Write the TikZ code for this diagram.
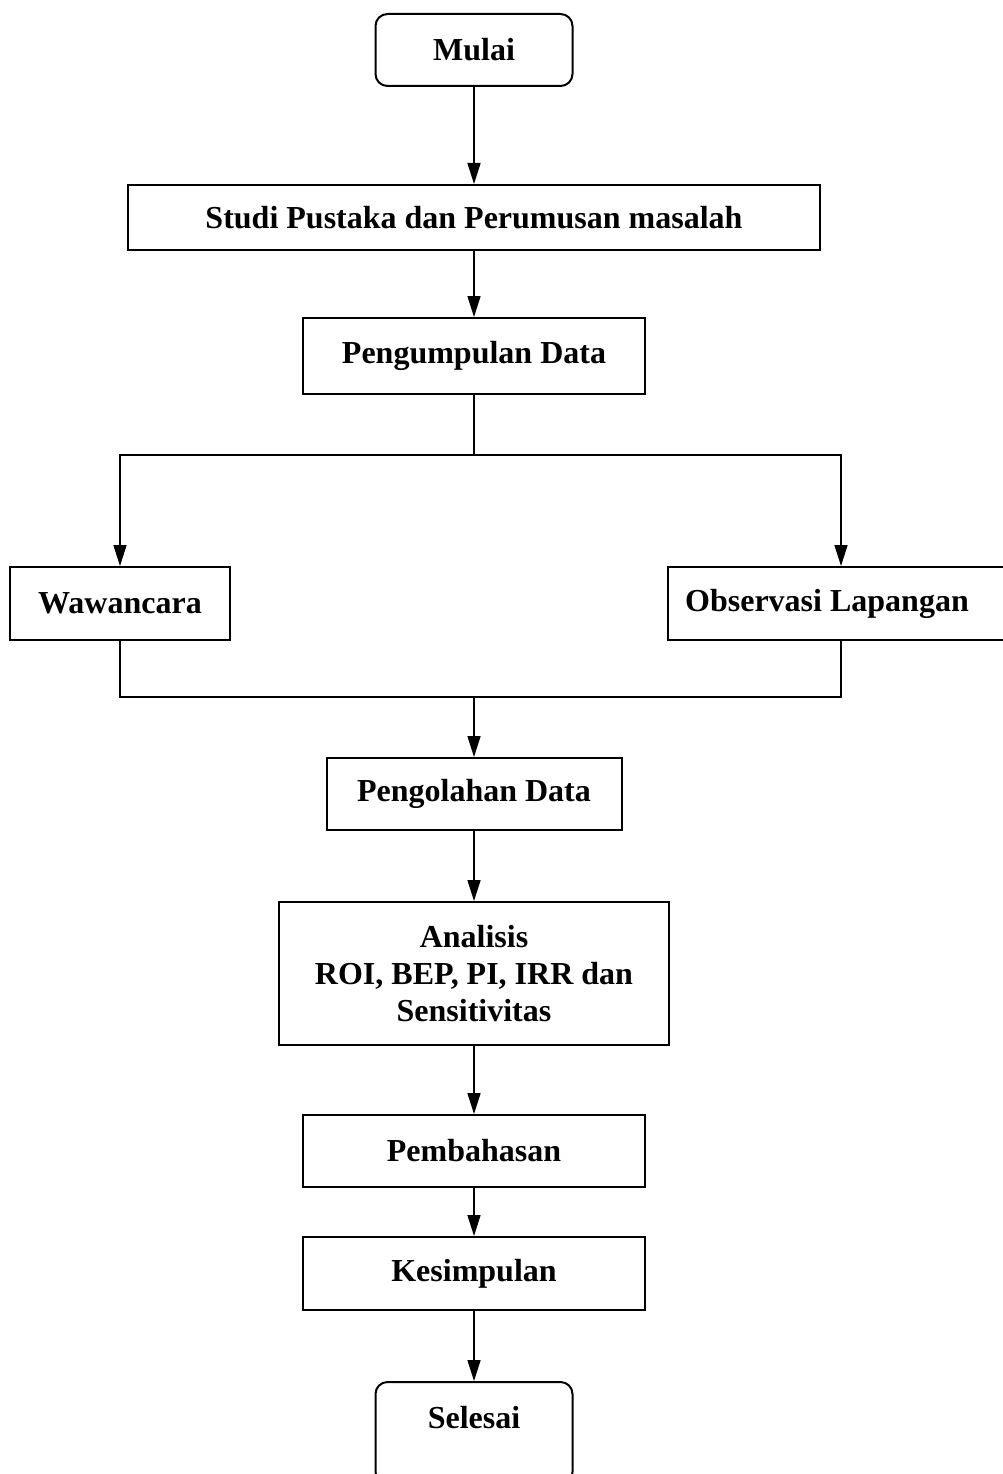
\documentclass[tikz,border=0pt]{standalone}
\usepackage{fontspec}
\setmainfont{Liberation Serif}
\usetikzlibrary{arrows.meta}
\begin{document}
\begin{tikzpicture}[x=1pt,y=-1pt,
  box/.style={draw, line width=2pt, inner sep=0pt, align=center,
    font=\fontsize{32}{37}\selectfont\bfseries},
  term/.style={box, rounded corners=12pt},
  conn/.style={line width=1.6pt},
  arr/.style={conn, -{Triangle[width=13pt,length=21pt]}}]
\clip (0,0) rectangle (1003,1474);
\fill[white] (0,0) rectangle (1003,1474);

\node[term, minimum width=197pt, minimum height=72pt] (mulai) at (474,50) {Mulai};
\node[box, minimum width=692pt, minimum height=65pt] (studi) at (474,217.5) {Studi Pustaka dan Perumusan masalah};
\node[box, minimum width=342pt, minimum height=76pt] (kumpul) at (474,356) {Pengumpulan Data};
\node[box, minimum width=220pt, minimum height=73pt] (waw) at (120,603.5) {Wawancara};
\node[box, minimum width=346pt, minimum height=73pt] (obs) at (841,603.5) {Observasi Lapangan\hspace*{28pt}};
\node[box, minimum width=295pt, minimum height=72pt] (olah) at (474,794) {Pengolahan Data};
\node[box, minimum width=390pt, minimum height=143pt] (analisis) at (474,973.5) {Analisis\\ROI, BEP, PI, IRR dan\\Sensitivitas};
\node[box, minimum width=342pt, minimum height=72pt] (bahas) at (474,1151) {Pembahasan};
\node[box, minimum width=342pt, minimum height=73pt] (simpul) at (474,1273.5) {Kesimpulan};
\node[term, minimum width=197pt, minimum height=102pt] (selesai) at (474,1433) {\raisebox{0pt}[\height][\dimexpr\depth+30pt\relax]{Selesai}};

\coordinate (fork) at (474,455);
\coordinate (join) at (474,697);

\draw[arr] (mulai) -- (studi);
\draw[arr] (studi) -- (kumpul);
\draw[conn] (kumpul) -- (fork);
\draw[arr] (fork) -| (waw);
\draw[arr] (fork) -| (obs);
\draw[conn] (waw) |- (join);
\draw[conn] (obs) |- (join);
\draw[arr] (join) -- (olah);
\draw[arr] (olah) -- (analisis);
\draw[arr] (analisis) -- (bahas);
\draw[arr] (bahas) -- (simpul);
\draw[arr] (simpul) -- (selesai);
\end{tikzpicture}
\end{document}
